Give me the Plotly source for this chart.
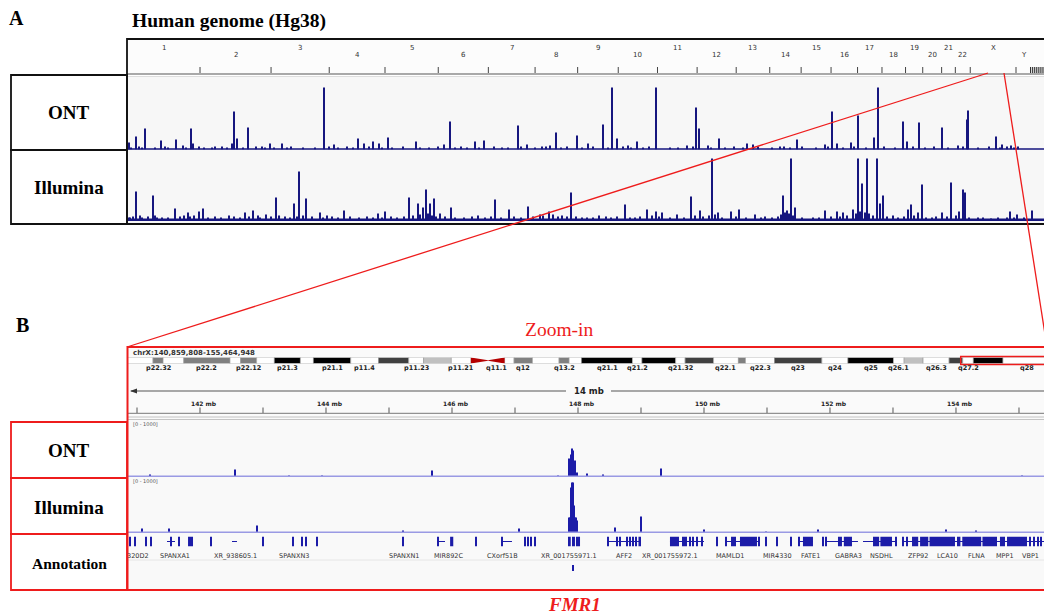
import plotly.graph_objects as go

W, H = 1044, 615

# ===================== DATA =====================
# ---- Panel A: genome-wide coverage (hg38) ----
chrom_names = ["1", "2", "3", "4", "5", "6", "7", "8", "9", "10", "11", "12",
               "13", "14", "15", "16", "17", "18", "19", "20", "21", "22", "X", "Y"]
chrom_sizes_mb = [248.96, 242.19, 198.30, 190.21, 181.54, 170.81, 159.35, 145.14,
                  138.39, 133.80, 135.09, 133.28, 114.36, 107.04, 101.99, 90.34,
                  83.26, 80.37, 58.62, 64.44, 46.71, 50.82, 156.04, 57.23]
unplaced_contig_ticks_mb = [3081, 3088, 3095, 3102, 3109, 3116, 3123]
genome_view_mb = [0, 3126.5]

# (cumulative genome position in Mb, coverage)
ont_genome_peaks = [
    (6.8, 7), (30.7, 13), (61.4, 21), (115.9, 9), (167.1, 10), (190.9, 4), (218.2, 21),
    (225.0, 6), (323.9, 3), (358.0, 6), (364.8, 38), (375.0, 11), (412.5, 22), (460.3, 3),
    (487.6, 6), (528.5, 6), (671.7, 62), (705.8, 5), (787.6, 11), (808.1, 6), (838.7, 8),
    (859.2, 6), (889.9, 12), (985.3, 8), (1080.8, 5), (1101.3, 28), (1186.5, 8),
    (1217.2, 9), (1333.1, 24), (1363.8, 5), (1414.9, 3), (1442.2, 4), (1462.7, 17),
    (1534.3, 14), (1571.8, 6), (1622.9, 25), (1653.6, 62), (1670.7, 11), (1708.2, 4),
    (1738.8, 8), (1803.6, 62), (1909.3, 4), (1940.0, 42), (1950.2, 21), (1980.9, 4),
    (2018.4, 11), (2113.9, 6), (2134.3, 5), (2226.4, 3), (2284.4, 10), (2379.8, 5),
    (2403.7, 38), (2420.7, 6), (2468.5, 7), (2492.3, 34), (2546.9, 12), (2560.5, 62),
    (2645.8, 28), (2659.4, 8), (2700.3, 27), (2778.7, 22), (2833.3, 4), (2864.0, 30),
    (2867.4, 39), (2962.9, 13), (2983.3, 5), (3014.0, 4), (3037.9, 3)]
ont_genome_low = [
    (15, 2), (40, 3), (52, 2), (95, 2), (130, 3), (140, 2), (200, 2), (245, 3), (262, 2),
    (290, 2), (300, 3), (340, 2), (395, 2), (440, 3), (470, 2), (500, 2), (545, 2), (560, 3),
    (600, 2), (640, 2), (690, 3), (720, 2), (750, 3), (770, 2), (825, 3), (870, 2), (905, 2),
    (940, 3), (1000, 2), (1030, 2), (1060, 3), (1120, 2), (1140, 3), (1160, 2), (1200, 2),
    (1250, 3), (1280, 2), (1300, 2), (1345, 3), (1390, 2), (1430, 3), (1480, 2), (1500, 3),
    (1550, 2), (1590, 3), (1640, 2), (1690, 3), (1720, 2), (1760, 2), (1780, 3), (1850, 2),
    (1880, 2), (1930, 3), (1990, 2), (2040, 2), (2070, 3), (2100, 2), (2150, 3), (2200, 2),
    (2240, 3), (2260, 2), (2300, 3), (2350, 2), (2390, 3), (2440, 2), (2480, 3), (2520, 2),
    (2580, 3), (2620, 2), (2680, 3), (2720, 2), (2750, 3), (2800, 2), (2850, 3), (2900, 2),
    (2940, 3), (2975, 2), (3000, 3), (3025, 2)]

ill_genome_peaks = [
    (6.8, 3), (30.7, 29), (44.3, 5), (88.6, 25), (102.3, 3), (163.7, 12), (208.0, 8),
    (245.5, 9), (259.1, 12), (347.8, 5), (402.3, 8), (429.6, 10), (446.6, 5), (473.9, 6),
    (508.0, 23), (569.4, 17), (586.4, 49), (610.3, 22), (658.0, 8), (681.9, 5), (739.9, 10),
    (855.8, 7), (879.7, 9), (920.6, 3), (961.5, 23), (992.2, 17), (1009.2, 13),
    (1019.5, 31), (1033.1, 17), (1046.8, 22), (1067.2, 7), (1104.7, 13), (1196.8, 5),
    (1254.7, 21), (1302.4, 11), (1367.2, 14), (1408.1, 6), (1438.8, 9), (1452.4, 6),
    (1483.1, 5), (1513.8, 28), (1568.3, 3), (1609.2, 5), (1633.1, 4), (1697.9, 16),
    (1732.0, 3), (1772.9, 11), (1803.6, 9), (1824.1, 8), (1875.2, 6), (1923.0, 24),
    (1936.6, 5), (1953.6, 10), (1994.5, 62), (2015.0, 8), (2059.3, 9), (2086.6, 11),
    (2141.1, 6), (2175.2, 4), (2219.6, 4), (2236.6, 25), (2250.3, 10), (2263.9, 62),
    (2277.5, 13), (2338.9, 3), (2379.8, 10), (2420.7, 9), (2441.2, 8), (2475.3, 11),
    (2492.3, 62), (2506.0, 37), (2523.0, 62), (2557.1, 62), (2567.3, 17), (2577.6, 25),
    (2611.7, 5), (2662.8, 11), (2673.0, 16), (2696.9, 8), (2710.6, 36), (2744.6, 3),
    (2778.7, 8), (2809.4, 38), (2836.7, 9), (2850.3, 31), (2857.1, 28), (2901.5, 3),
    (2945.8, 2), (3010.6, 9), (3034.5, 6), (3085.6, 10)]
ill_genome_low = [
    (12, 3), (20, 4), (50, 3), (70, 4), (95, 5), (120, 3), (140, 3), (180, 4), (195, 5),
    (215, 4), (230, 5), (275, 3), (300, 4), (320, 3), (365, 4), (385, 3), (415, 4), (455, 3),
    (490, 4), (520, 5), (540, 4), (555, 3), (580, 4), (600, 5), (630, 4), (670, 3), (700, 4),
    (720, 3), (760, 4), (790, 3), (820, 4), (840, 3), (870, 3), (900, 4), (945, 4), (975, 5),
    (1000, 6), (1025, 7), (1040, 5), (1055, 4), (1085, 4), (1120, 3), (1150, 3), (1175, 4),
    (1220, 3), (1240, 4), (1275, 3), (1320, 4), (1345, 3), (1385, 4), (1420, 5), (1470, 4),
    (1500, 4), (1530, 4), (1550, 3), (1590, 3), (1650, 3), (1670, 4), (1715, 3), (1750, 4),
    (1790, 5), (1815, 4), (1850, 3), (1900, 3), (1965, 4), (1985, 5), (2005, 6), (2030, 3),
    (2075, 4), (2110, 3), (2160, 3), (2200, 3), (2230, 6), (2245, 8), (2258, 7), (2270, 5),
    (2300, 3), (2360, 3), (2400, 4), (2430, 4), (2455, 5), (2485, 7), (2500, 9), (2515, 8),
    (2530, 7), (2545, 5), (2590, 4), (2630, 3), (2650, 4), (2685, 5), (2725, 3), (2760, 4),
    (2795, 4), (2825, 5), (2870, 3), (2920, 3), (2970, 3), (3000, 3), (3025, 3), (3060, 3)]

# ---- Panel B: chrX zoom ----
view_start_mb, view_end_mb = 140.859808, 155.464948
view_axis_mb = [140.857, 155.397]
ruler_ticks_mb = [141, 142, 143, 144, 145, 146, 147, 148, 149, 150, 151, 152, 153, 154, 155]
ruler_labels_mb = [142, 144, 146, 148, 150, 152, 154]

cyto_names = ["p22.33", "p22.32", "p22.31", "p22.2", "p22.13", "p22.12", "p22.11", "p21.3",
              "p21.2", "p21.1", "p11.4", "p11.3", "p11.23", "p11.22", "p11.21", "p11.1",
              "q11.1", "q11.2", "q12", "q13.1", "q13.2", "q13.3", "q21.1", "q21.2", "q21.31",
              "q21.32", "q21.33", "q22.1", "q22.2", "q22.3", "q23", "q24", "q25", "q26.1",
              "q26.2", "q26.3", "q27.1", "q27.2", "q27.3", "q28"]
cyto_start = [0.0, 4.4, 6.1, 9.6, 17.4, 19.2, 21.9, 24.9, 29.3, 31.5, 37.8, 42.5, 47.6, 50.1,
              54.8, 58.1, 61.0, 63.8, 65.4, 68.5, 73.0, 74.7, 76.8, 85.4, 87.0, 92.7, 94.3,
              99.1, 103.3, 104.5, 109.4, 117.4, 121.8, 129.5, 131.3, 134.5, 138.9, 141.2,
              143.0, 148.0]
cyto_end = [4.4, 6.1, 9.6, 17.4, 19.2, 21.9, 24.9, 29.3, 31.5, 37.8, 42.5, 47.6, 50.1, 54.8,
            58.1, 61.0, 63.8, 65.4, 68.5, 73.0, 74.7, 76.8, 85.4, 87.0, 92.7, 94.3, 99.1,
            103.3, 104.5, 109.4, 117.4, 121.8, 129.5, 131.3, 134.5, 138.9, 141.2, 143.0,
            148.0, 156.04]
cyto_stain = ["gneg", "gpos50", "gneg", "gpos50", "gneg", "gpos50", "gneg", "gpos100",
              "gneg", "gpos100", "gneg", "gpos75", "gneg", "gpos25", "gneg", "acen",
              "acen", "gneg", "gpos50", "gneg", "gpos50", "gneg", "gpos100", "gneg",
              "gpos100", "gneg", "gpos75", "gneg", "gpos50", "gneg", "gpos75", "gneg",
              "gpos100", "gneg", "gpos25", "gneg", "gpos75", "gneg", "gpos100", "gneg"]
cyto_labels_shown = ["p22.32", "p22.2", "p22.12", "p21.3", "p21.1", "p11.4", "p11.23",
                     "p11.21", "q11.1", "q12", "q13.2", "q21.1", "q21.2", "q21.32", "q22.1",
                     "q22.3", "q23", "q24", "q25", "q26.1", "q26.3", "q27.2", "q28"]
ideogram_axis_mb = [0, 154.93]

# (chrX position in Mb, coverage)
ont_zoom = [(141.206, 1.5), (142.556, 7), (143.413, 1), (143.937, 1), (145.683, 6),
            (147.683, 1), (147.857, 18), (147.889, 22), (147.905, 28), (147.921, 26),
            (147.952, 16), (147.984, 4), (148.143, 3), (148.397, 2), (149.317, 8),
            (155.048, 1)]
ill_zoom = [(141.079, 4), (141.508, 4), (142.905, 7), (145.222, 2), (147.071, 4),
            (147.857, 15), (147.873, 15), (147.889, 45), (147.905, 50), (147.921, 50),
            (147.937, 27), (147.952, 15), (147.968, 15), (147.984, 12), (148.587, 5),
            (149.000, 16), (150.000, 3), (150.984, 1), (151.810, 3), (153.841, 3),
            (154.317, 2)]

exons_mb = [(140.880, 140.896), (140.960, 140.976), (141.135, 141.151), (141.214, 141.230),
            (141.532, 141.548), (141.659, 141.675), (141.810, 141.889), (142.167, 142.183),
            (142.990, 143.015), (143.468, 143.484), (143.611, 143.627), (143.675, 143.691),
            (143.849, 143.865), (145.214, 145.230), (145.770, 145.786), (145.970, 146.020),
            (146.373, 146.389), (146.786, 146.802), (147.151, 147.167), (147.198, 147.214),
            (147.246, 147.262), (147.309, 147.325), (147.857, 147.885), (147.905, 147.952),
            (147.968, 148.032), (148.468, 148.484), (148.611, 148.627), (148.659, 148.675),
            (148.770, 148.786), (148.817, 148.833), (148.865, 148.881), (148.913, 148.929),
            (148.960, 149.000), (149.460, 149.603), (149.651, 149.730), (149.762, 149.794),
            (149.817, 149.833), (149.881, 149.897), (149.960, 149.976), (150.198, 150.214),
            (150.341, 150.357), (150.429, 150.508), (150.571, 150.841), (150.865, 150.881),
            (150.976, 150.992), (151.151, 151.167), (151.373, 151.389), (151.500, 151.516),
            (151.571, 151.730), (151.881, 151.897), (151.929, 151.945), (152.127, 152.190),
            (152.220, 152.349), (152.683, 152.780), (152.800, 152.984), (153.040, 153.056),
            (153.151, 153.167), (153.214, 153.230), (153.302, 153.400), (153.430, 153.560),
            (153.580, 153.984), (154.016, 154.070), (154.100, 154.400), (154.420, 154.651),
            (154.698, 154.778), (154.810, 155.127), (155.167, 155.183), (155.230, 155.246),
            (155.294, 155.310), (155.341, 155.357)]
introns_mb = [(141.476, 141.603), (142.508, 142.587), (145.786, 145.889), (146.802, 146.952),
              (148.476, 149.000), (149.460, 150.000), (150.349, 150.873), (151.508, 151.730),
              (151.952, 152.444), (152.524, 153.048), (153.159, 155.397)]
gene_names = ["320D2", "SPANXA1", "XR_938605.1", "SPANXN3", "SPANXN1", "MIR892C", "CXorf51B",
              "XR_001755971.1", "AFF2", "XR_001755972.1", "MAMLD1", "MIR4330", "FATE1",
              "GABRA3", "NSDHL", "ZFP92", "LCA10", "FLNA", "MPP1", "VBP1"]
gene_label_mb = [141.02, 141.603, 142.556, 143.492, 145.238, 145.952, 146.794, 147.857,
                 148.730, 149.460, 150.413, 151.159, 151.698, 152.286, 152.825, 153.397,
                 153.873, 154.333, 154.778, 155.190]
fmr1_feature_mb = (147.905, 147.937)

# ===================== STYLE / HELPERS =====================
SERIF = "Liberation Serif"
SANS = "DejaVu Sans"
NAVY = "#16167f"
BLUE = "#1c1ca8"
RED = "#ee1c1c"
stain_color = {"gneg": "#ffffff", "gpos25": "#c0c0c0", "gpos50": "#808080",
               "gpos75": "#404040", "gpos100": "#000000"}


def yd(top, bottom):
    return [1 - bottom / H, 1 - top / H]


shapes = []
annotations = []


def rect(x0, y0, x1, y1, line=None, lw=0, fill=None, layer="above"):
    shapes.append(dict(type="rect", xref="paper", yref="paper",
                       x0=x0 / W, x1=x1 / W, y0=1 - y1 / H, y1=1 - y0 / H,
                       line=dict(color=line or "rgba(0,0,0,0)", width=lw),
                       fillcolor=fill or "rgba(0,0,0,0)", layer=layer))


def pline(x0, y0, x1, y1, color, lw=1, layer="above"):
    shapes.append(dict(type="line", xref="paper", yref="paper",
                       x0=x0 / W, x1=x1 / W, y0=1 - y0 / H, y1=1 - y1 / H,
                       line=dict(color=color, width=lw), layer=layer))


def text(x, y, s, size, color="#000", family=SERIF, xanchor="center", xref="paper"):
    annotations.append(dict(x=x if xref != "paper" else x / W, y=1 - y / H, xref=xref,
                            yref="paper", text=s, showarrow=False, xanchor=xanchor,
                            yanchor="middle", font=dict(size=size, color=color, family=family)))


fig = go.Figure()

# ===================== PANEL A =====================
chrom_end = []
acc = 0.0
for s in chrom_sizes_mb:
    acc += s
    chrom_end.append(acc)
chrom_mid = [e - s / 2 for e, s in zip(chrom_end, chrom_sizes_mb)]

# backgrounds
rect(127, 39, 1050, 74, fill="#fcfcfc", layer="below")
rect(127, 76, 1050, 223, fill="#f7f7f7", layer="below")

ont_all = ont_genome_low + ont_genome_peaks
ill_all = ill_genome_low + ill_genome_peaks
fig.add_trace(go.Bar(x=[p for p, v in ont_all], y=[v for p, v in ont_all], width=3.6,
                     marker=dict(color=NAVY, line=dict(width=0)), xaxis="x", yaxis="y",
                     hoverinfo="skip"))
fig.add_trace(go.Bar(x=[p for p, v in ill_all], y=[v for p, v in ill_all], width=3.6,
                     marker=dict(color=NAVY, line=dict(width=0)), xaxis="x", yaxis="y2",
                     hoverinfo="skip"))

# baselines of tracks A
pline(127, 149, 1044, 149, NAVY, 1.3)
pline(127, 219.8, 1044, 219.8, NAVY, 2.4)

# chromosome labels & ticks
for i, (nm, mid, end) in enumerate(zip(chrom_names, chrom_mid, chrom_end)):
    annotations.append(dict(x=mid, xref="x", y=1 - (48 if i % 2 == 0 else 55) / H, yref="paper",
                            text=nm, showarrow=False, xanchor="center", yanchor="middle",
                            font=dict(size=7, color="#333", family=SANS)))
    if i < len(chrom_names) - 1:
        shapes.append(dict(type="line", xref="x", yref="paper", x0=end, x1=end,
                           y0=1 - 73 / H, y1=1 - 67 / H, line=dict(color="#444", width=1)))
for t in unplaced_contig_ticks_mb:
    shapes.append(dict(type="line", xref="x", yref="paper", x0=t, x1=t,
                       y0=1 - 73 / H, y1=1 - 67 / H, line=dict(color="#111", width=1)))
pline(127, 74, 1044, 74, "#555", 1)
pline(127, 76.5, 1044, 76.5, "#dddddd", 1)

# frames A
rect(127, 39, 1052, 224, line="#111", lw=1.8)
rect(11, 75, 127, 150, line="#111", lw=1.8)
rect(11, 150, 127, 224, line="#111", lw=1.8)
text(69, 112, "<b>ONT</b>", 19)
text(69, 187, "<b>Illumina</b>", 19)
text(16, 18, "<b>A</b>", 20)
text(130, 21, "<b>Human genome (Hg38)</b>", 19.5, xanchor="left")

# ===================== PANEL B =====================
rect(128, 347, 1050, 590, fill="#f9f9f9", layer="below")
rect(128, 347, 1050, 416, fill="#fafafa", layer="below")

# ideogram (horizontal bars on chrX axis)
non_acen = [i for i, s in enumerate(cyto_stain) if s != "acen"]
fig.add_trace(go.Bar(orientation="h", y=[0] * len(non_acen),
                     base=[cyto_start[i] for i in non_acen],
                     x=[cyto_end[i] - cyto_start[i] for i in non_acen], width=1,
                     marker=dict(color=[stain_color[cyto_stain[i]] for i in non_acen],
                                 line=dict(color="#999", width=0.6)),
                     xaxis="x3", yaxis="y5", hoverinfo="skip"))
acen = [i for i, s in enumerate(cyto_stain) if s == "acen"]
p_arm, q_arm = acen[0], acen[1]
shapes.append(dict(type="path", xref="x3", yref="y5",
                   path=f"M {cyto_start[p_arm]},-0.5 L {cyto_start[p_arm]},0.5 L {cyto_end[p_arm]},0.05 L {cyto_end[p_arm]},-0.05 Z",
                   fillcolor="#b40000", line=dict(width=0)))
shapes.append(dict(type="path", xref="x3", yref="y5",
                   path=f"M {cyto_end[q_arm]},-0.5 L {cyto_end[q_arm]},0.5 L {cyto_start[q_arm]},0.05 L {cyto_start[q_arm]},-0.05 Z",
                   fillcolor="#b40000", line=dict(width=0)))
for nm in cyto_labels_shown:
    i = cyto_names.index(nm)
    annotations.append(dict(x=(cyto_start[i] + cyto_end[i]) / 2, xref="x3", y=1 - 368 / H,
                            yref="paper", text=f"<b>{nm}</b>", showarrow=False,
                            xanchor="center", yanchor="middle",
                            font=dict(size=6.5, color="#222", family=SANS)))
shapes.append(dict(type="rect", xref="x3", yref="paper", x0=view_start_mb, x1=view_end_mb,
                   y0=1 - 364.5 / H, y1=1 - 356.5 / H, line=dict(color=RED, width=1.5),
                   fillcolor="rgba(0,0,0,0)"))
text(131, 353, "<b>chrX:140,859,808-155,464,948</b>", 7, "#333", SANS, "left")

# 14 mb ruler
pline(131, 391, 566, 391, "#555", 1.2)
pline(611, 391, 1044, 391, "#555", 1.2)
shapes.append(dict(type="path", xref="paper", yref="paper",
                   path=f"M {130/W},{1-391/H} L {137/W},{1-388.5/H} L {137/W},{1-393.5/H} Z",
                   fillcolor="#333", line=dict(width=0)))
text(589, 391, "<b>14 mb</b>", 8.5, "#222", SANS)
for t in ruler_ticks_mb:
    shapes.append(dict(type="line", xref="x2", yref="paper", x0=t, x1=t,
                       y0=1 - 413 / H, y1=1 - 407.5 / H, line=dict(color="#555", width=1)))
for t in ruler_labels_mb:
    annotations.append(dict(x=t, xref="x2", y=1 - 403 / H, yref="paper", text=f"<b>{t} mb</b>",
                            showarrow=False, xanchor="center", yanchor="middle", xshift=4,
                            font=dict(size=6, color="#222", family=SANS)))
pline(128, 413.3, 1044, 413.3, "#777", 1)
pline(128, 417, 1044, 417, "#c4c4c4", 1.2)
pline(128, 419.5, 1044, 419.5, "#c4c4c4", 1.2)

# coverage tracks B
fig.add_trace(go.Bar(x=[p for p, v in ont_zoom], y=[v for p, v in ont_zoom], width=0.017,
                     marker=dict(color=BLUE, line=dict(width=0)), xaxis="x2", yaxis="y3",
                     hoverinfo="skip"))
fig.add_trace(go.Bar(x=[p for p, v in ill_zoom], y=[v for p, v in ill_zoom], width=0.017,
                     marker=dict(color=BLUE, line=dict(width=0)), xaxis="x2", yaxis="y4",
                     hoverinfo="skip"))
pline(128, 476.3, 1044, 476.3, "#9a9ae4", 1.4)
pline(128, 532.3, 1044, 532.3, "#9a9ae4", 1.4)
text(131, 424.5, "[0 - 1000]", 5, "#555", SANS, "left")
text(131, 480.5, "[0 - 1000]", 5, "#555", SANS, "left")

# annotation track
fig.add_trace(go.Bar(orientation="h", y=[0] * len(exons_mb), base=[s for s, e in exons_mb],
                     x=[e - s for s, e in exons_mb], width=1,
                     marker=dict(color=BLUE, line=dict(width=0)), xaxis="x2", yaxis="y6",
                     hoverinfo="skip"))
for s, e in introns_mb:
    shapes.append(dict(type="line", xref="x2", yref="paper", x0=s, x1=e,
                       y0=1 - 541.5 / H, y1=1 - 541.5 / H, line=dict(color=BLUE, width=1)))
for nm, pos in zip(gene_names, gene_label_mb):
    annotations.append(dict(x=pos, xref="x2", y=1 - 556 / H, yref="paper", text=nm,
                            showarrow=False, xanchor="center", yanchor="middle",
                            font=dict(size=6.5, color="#333", family=SANS)))
pline(128, 560, 1044, 560, "#e6e6e6", 1)
shapes.append(dict(type="rect", xref="x2", yref="paper", x0=fmr1_feature_mb[0],
                   x1=fmr1_feature_mb[1], y0=1 - 571 / H, y1=1 - 565 / H,
                   fillcolor=BLUE, line=dict(width=0)))

# frames B
rect(127.5, 347, 1052, 590, line=RED, lw=2)
rect(11, 422, 127, 478, line=RED, lw=1.8)
rect(11, 478, 127, 534, line=RED, lw=1.8)
rect(11, 534, 127, 590, line=RED, lw=1.8)
text(69, 450, "<b>ONT</b>", 19)
text(69, 507, "<b>Illumina</b>", 19)
text(69, 563, "<b>Annotation</b>", 15.5)
text(22, 325, "<b>B</b>", 20)
text(559, 329, "Zoom-in", 19.5, RED)
text(574, 604, "<b><i>FMR1</i></b>", 19, RED)

# zoom connector lines
pline(988, 73, 127, 347, RED, 1.3)
pline(1004, 73, 1047, 347, RED, 1.3)

# ===================== LAYOUT =====================
ax = dict(visible=False, fixedrange=True, showgrid=False, zeroline=False)
fig.update_layout(
    width=W, height=H, margin=dict(l=0, r=0, t=0, b=0),
    paper_bgcolor="white", plot_bgcolor="rgba(0,0,0,0)", showlegend=False,
    barmode="overlay",
    xaxis=dict(ax, domain=[127 / W, 1], range=genome_view_mb, anchor="y"),
    yaxis=dict(ax, domain=yd(79.5, 149.5), range=[0, 70], anchor="x"),
    yaxis2=dict(ax, domain=yd(150.5, 220.5), range=[0, 70], anchor="x"),
    xaxis2=dict(ax, domain=[128 / W, 1], range=view_axis_mb, anchor="y3"),
    yaxis3=dict(ax, domain=yd(421.5, 476.5), range=[0, 55], anchor="x2"),
    yaxis4=dict(ax, domain=yd(477.5, 532.5), range=[0, 55], anchor="x2"),
    xaxis3=dict(ax, domain=[127 / W, 1], range=ideogram_axis_mb, anchor="y5"),
    yaxis5=dict(ax, domain=yd(357.5, 363.5), range=[-0.5, 0.5], anchor="x3"),
    yaxis6=dict(ax, domain=yd(536.5, 546.5), range=[-0.5, 0.5], anchor="x2"),
    shapes=shapes, annotations=annotations,
)
fig.write_html("out.html", config={"displayModeBar": False})
